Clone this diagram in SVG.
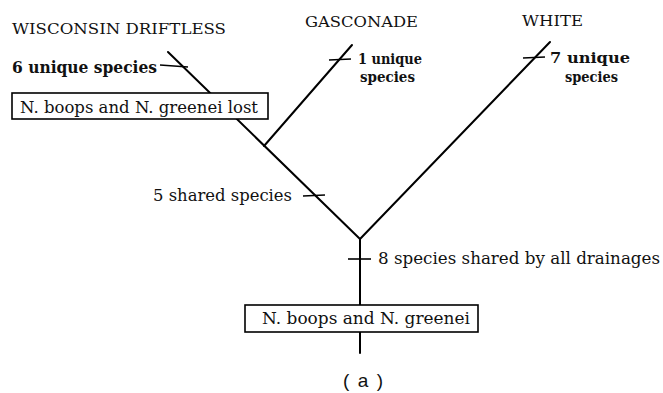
<svg xmlns="http://www.w3.org/2000/svg" width="663" height="393" viewBox="0 0 663 393">
  <style>
    .branch { stroke: #000; stroke-width: 2; fill: none; stroke-linecap: round; }
    .tick { stroke: #000; stroke-width: 1.6; fill: none; }
    .box { fill: #fff; stroke: #000; stroke-width: 1.6; }
    .lbl { font-family: "DejaVu Serif", "Liberation Serif", serif; font-size: 16px; fill: #111; }
    .head { font-family: "DejaVu Serif", "Liberation Serif", serif; font-size: 15px; fill: #111; }
    .bold { font-family: "DejaVu Serif", "Liberation Serif", serif; font-size: 16px; font-weight: bold; fill: #111; }
    .bold2 { font-family: "DejaVu Serif", "Liberation Serif", serif; font-size: 14.5px; font-weight: bold; fill: #111; }
    .cap { font-family: "Liberation Sans", Arial, sans-serif; font-size: 19px; fill: #111; }
  </style>

  <!-- tree branches and character ticks -->
  <g id="connectors">
    <path class="branch" d="M168,52 L360,239"/>
    <path class="branch" d="M264,146 L352,45"/>
    <path class="branch" d="M360,239 L550,42"/>
    <path class="branch" d="M360,239 L360,353"/>
    <path class="tick" d="M160,65 L188,67"/>
    <path class="tick" d="M329,60 L351,59"/>
    <path class="tick" d="M523,58 L545,57"/>
    <path class="tick" d="M303,196 L325,195"/>
    <path class="tick" d="M348,259 L371,259"/>
  </g>

  <!-- drainage headings -->
  <g id="wisconsin">
    <text class="head" x="12" y="34" textLength="214" lengthAdjust="spacingAndGlyphs">WISCONSIN DRIFTLESS</text>
    <text class="bold" x="12" y="73" textLength="145" lengthAdjust="spacingAndGlyphs">6 unique species</text>
  </g>
  <g id="gasconade">
    <text class="head" x="305" y="27" textLength="113" lengthAdjust="spacingAndGlyphs">GASCONADE</text>
    <text class="bold2" x="358" y="64" textLength="64" lengthAdjust="spacingAndGlyphs">1 unique</text>
    <text class="bold2" x="360" y="82" textLength="55" lengthAdjust="spacingAndGlyphs">species</text>
  </g>
  <g id="white">
    <text class="head" x="522" y="26" textLength="61" lengthAdjust="spacingAndGlyphs">WHITE</text>
    <text class="bold2" x="550" y="63" textLength="80" lengthAdjust="spacingAndGlyphs">7 unique</text>
    <text class="bold2" x="565" y="82" textLength="53" lengthAdjust="spacingAndGlyphs">species</text>
  </g>

  <!-- loss event box on the Wisconsin branch -->
  <g id="lost">
    <rect class="box" x="12" y="93" width="256" height="26"/>
    <text class="lbl" x="20" y="113" textLength="238" lengthAdjust="spacingAndGlyphs">N. boops and N. greenei lost</text>
  </g>

  <g id="shared5">
    <text class="lbl" x="153" y="201" textLength="139" lengthAdjust="spacingAndGlyphs">5 shared species</text>
  </g>

  <g id="shared8">
    <text class="lbl" x="378" y="264" textLength="282" lengthAdjust="spacingAndGlyphs">8 species shared by all drainages</text>
  </g>

  <!-- ancestral state box on the root -->
  <g id="root">
    <rect class="box" x="245" y="305" width="233" height="27"/>
    <text class="lbl" x="262" y="324" textLength="208" lengthAdjust="spacingAndGlyphs">N. boops and N. greenei</text>
  </g>

  <g id="caption">
    <text class="cap" x="343" y="387" textLength="40" lengthAdjust="spacing">(a)</text>
  </g>
</svg>
